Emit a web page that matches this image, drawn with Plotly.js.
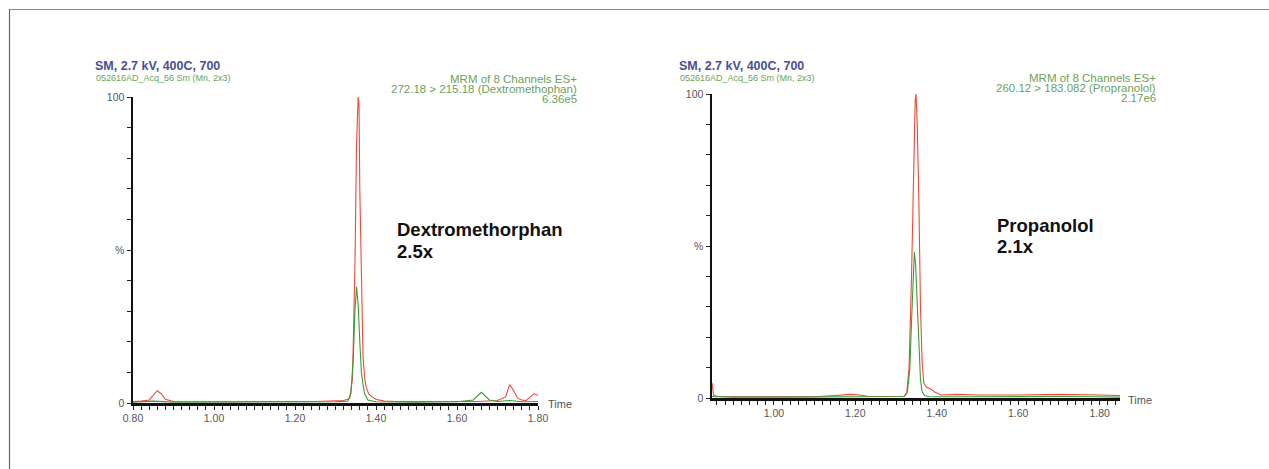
<!DOCTYPE html>
<html>
<head>
<meta charset="utf-8">
<script src="https://cdn.plot.ly/plotly-3.0.1.min.js"></script>
<style>html,body{margin:0;padding:0;background:#fff;}#chart{width:1269px;height:469px;}</style>
</head>
<body>
<div id="chart"></div>
<script>
// ---- Data ----
const dexRedTime = [0.80,0.82,0.84,0.85,0.86,0.87,0.88,0.90,0.95,1.00,1.05,1.10,1.15,1.20,1.25,1.30,1.32,1.335,1.342,1.348,1.352,1.356,1.358,1.360,1.364,1.368,1.372,1.376,1.382,1.390,1.40,1.41,1.42,1.45,1.50,1.55,1.60,1.65,1.70,1.72,1.73,1.74,1.75,1.76,1.77,1.78,1.79,1.80];
const dexRedPct  = [0.5,0.6,1,2.5,4,3,1.2,0.5,0.4,0.5,0.4,0.5,0.6,0.5,0.5,0.6,0.8,1.5,8,45,85,100,98,70,35,15,8,5,3,2,1.2,0.8,0.6,0.5,0.5,0.6,0.5,0.5,0.8,2,6,4,1.5,1,0.8,2,3,2.5];
const dexGreenTime = [0.80,0.85,0.90,1.00,1.10,1.20,1.30,1.33,1.338,1.344,1.348,1.352,1.356,1.360,1.364,1.368,1.372,1.38,1.40,1.50,1.60,1.64,1.66,1.68,1.70,1.73,1.76,1.80];
const dexGreenPct  = [0.3,0.6,0.3,0.3,0.3,0.3,0.4,0.6,3,15,30,38,32,20,10,6,3,1,0.4,0.3,0.4,1,3.5,1,0.5,0.8,0.4,0.5];

const propRedTime = [0.848,0.852,0.86,0.90,1.00,1.10,1.15,1.17,1.19,1.21,1.23,1.26,1.30,1.32,1.326,1.332,1.338,1.343,1.347,1.349,1.352,1.356,1.360,1.364,1.368,1.375,1.385,1.395,1.41,1.45,1.50,1.60,1.70,1.80,1.85];
const propRedPct  = [5,1,0.5,0.4,0.4,0.4,0.8,1,1.2,1,0.6,0.5,0.5,0.6,1.5,10,40,80,98,100,90,65,30,12,5,3.5,3,2,1,1.2,1,1,1.2,1,0.8];
const propGreenTime = [0.848,0.90,1.00,1.10,1.20,1.30,1.32,1.328,1.334,1.338,1.342,1.345,1.348,1.352,1.356,1.360,1.364,1.37,1.38,1.40,1.50,1.60,1.70,1.80,1.85];
const propGreenPct  = [0.5,0.3,0.3,0.3,0.4,0.3,0.5,2,10,25,42,48,44,30,15,6,2,0.8,0.5,0.4,0.4,0.5,0.5,0.4,0.3];

const leftXLabels  = ['0.80','1.00','1.20','1.40','1.60','1.80'];
const rightXLabels = ['1.00','1.20','1.40','1.60','1.80'];
const yLabels = {0: '0', 50: '%', 100: '100'};

const header = 'SM, 2.7 kV, 400C, 700';
const fileLine = '052616AD_Acq_56 Sm (Mn, 2x3)';
const leftInfo  = ['MRM of 8 Channels ES+','272.18 > 215.18 (Dextromethophan)','6.36e5'];
const rightInfo = ['MRM of 8 Channels ES+','260.12 > 183.082 (Propranolol)','2.17e6'];
const leftLabel  = ['Dextromethorphan','2.5x'];
const rightLabel = ['Propanolol','2.1x'];

// ---- Styles ----
const RED = '#ec4a3c', GREEN = '#3f9a3a';
const W = 1269, H = 469;
const px = x => x / W, py = y => 1 - y / H;

function line(x, y, color, xa, ya) {
  return {x: x, y: y, type: 'scatter', mode: 'lines', xaxis: xa, yaxis: ya,
          line: {color: color, width: 1.1}, hoverinfo: 'skip', showlegend: false};
}
const traces = [
  line(dexRedTime, dexRedPct, RED, 'x', 'y'),
  line(dexGreenTime, dexGreenPct, GREEN, 'x', 'y'),
  line(propRedTime, propRedPct, RED, 'x2', 'y2'),
  line(propGreenTime, propGreenPct, GREEN, 'x2', 'y2')
];

const tickFont = {family: 'Liberation Sans, Arial, sans-serif', size: 10.5, color: '#555'};
// tick positions every 0.02 (x) / 10 (y); labels only on major ones
function xTicks(lo, hi, labels) {
  const vals = [], text = [];
  for (let i = Math.ceil(lo * 50 - 1e-6); i <= Math.floor(hi * 50 + 1e-6); i++) {
    const v = i / 50; vals.push(v);
    const s = v.toFixed(2);
    text.push(labels.includes(s) ? s : '');
  }
  return {vals, text};
}
function xAxis(range, labels, dom, anchor) {
  const t = xTicks(range[0], range[1], labels);
  return {domain: dom, range: range, anchor: anchor, showline: true, linecolor: '#111', linewidth: 2.5,
          showgrid: false, zeroline: false, tickmode: 'array', tickvals: t.vals, ticktext: t.text,
          ticks: 'outside', ticklen: 4, tickcolor: '#222', tickwidth: 1, tickfont: tickFont};
}
function yAxis(dom, anchor) {
  const vals = [], text = [];
  for (let v = 0; v <= 100; v += 10) { vals.push(v); text.push(yLabels[v] || ''); }
  return {domain: dom, range: [0, 100], anchor: anchor, showline: true, linecolor: '#111', linewidth: 2.5,
          showgrid: false, zeroline: false, tickmode: 'array', tickvals: vals, ticktext: text,
          ticks: 'outside', ticklen: 4, tickcolor: '#222', tickwidth: 1, tickfont: tickFont};
}

const ann = [];
function txt(x, y, text, size, color, bold, anchor) {
  ann.push({xref: 'paper', yref: 'paper', x: px(x), y: py(y), text: bold ? '<b>' + text + '</b>' : text,
            showarrow: false, xanchor: anchor || 'left', yanchor: 'middle',
            font: {family: 'Liberation Sans, Arial, sans-serif', size: size, color: color}});
}
// left panel
txt(93, 66, header, 12.5, '#4a4f95', true);
txt(94, 78, fileLine, 9, '#6aa25a', false);
leftInfo.forEach((t, i) => txt(579, 79 + i * 10, t, 11.5, '#6aa25a', false, 'right'));
txt(395, 230, leftLabel[0], 18.5, '#111', true);
txt(395, 251, leftLabel[1], 18.5, '#111', true);
txt(546, 404, 'Time', 11, '#555', false);
// right panel
txt(677, 66, header, 12.5, '#4a4f95', true);
txt(678, 78, fileLine, 9, '#6aa25a', false);
rightInfo.forEach((t, i) => txt(1158, 78 + i * 10, t, 11.5, '#6aa25a', false, 'right'));
txt(995, 226, rightLabel[0], 18.5, '#111', true);
txt(995, 246, rightLabel[1], 18.5, '#111', true);
txt(1126, 400, 'Time', 11, '#555', false);

const layout = {
  width: W, height: H, margin: {l: 0, r: 0, t: 0, b: 0},
  paper_bgcolor: '#fff', plot_bgcolor: '#fff', showlegend: false,
  xaxis: xAxis([0.80, 1.80], leftXLabels, [px(133), px(538)], 'y'),
  yaxis: yAxis([py(403), py(97)], 'x'),
  xaxis2: xAxis([0.848, 1.85], rightXLabels, [px(712), px(1120)], 'y2'),
  yaxis2: yAxis([py(398), py(94)], 'x2'),
  annotations: ann,
  shapes: [
    {type: 'line', xref: 'paper', yref: 'paper', x0: px(9), x1: 1, y0: py(9.5), y1: py(9.5), line: {color: '#888', width: 1.2}},
    {type: 'line', xref: 'paper', yref: 'paper', x0: px(9.5), x1: px(9.5), y0: py(9), y1: 0, line: {color: '#666', width: 1.2}}
  ]
};
Plotly.newPlot('chart', traces, layout, {staticPlot: true, displayModeBar: false});
</script>
</body>
</html>
